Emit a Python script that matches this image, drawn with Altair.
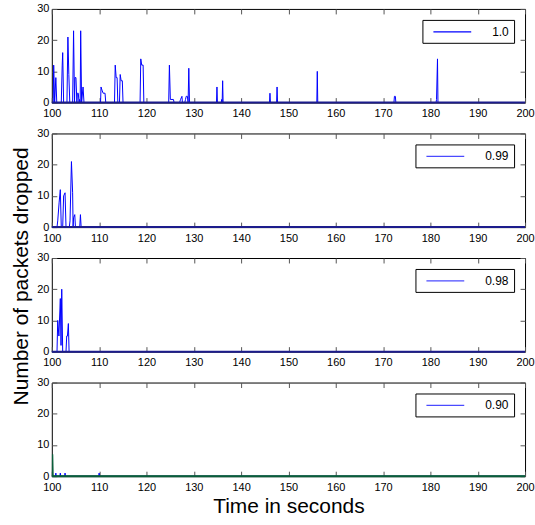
import altair as alt
import pandas as pd

FONT = "Liberation Sans"
x_ticks = list(range(100, 201, 10))
y_ticks = [0, 10, 20, 30]
labels = ["1.0", "0.99", "0.98", "0.90"]
series_color = "#0000ff"
green_color = "#0b5e3a"
baseline_color = "#1c1c8c"
W, H, TK = 475, 94, 5

# Panel 1 (1.0)
t1 = [100.0,
      100.3, 100.4, 100.6, 100.85, 101.05,
      102.0, 102.2, 102.3, 102.5,
      103.2, 103.4, 103.6, 103.8,
      104.4, 104.6, 104.8, 104.9, 105.1, 105.3, 105.4, 105.6, 105.75, 105.85, 106.0, 106.1, 106.3, 106.6, 106.8,
      110.3, 110.4, 110.6, 110.85, 111.25, 111.4,
      113.25, 113.4, 113.6, 113.8, 113.95, 114.3, 114.45, 114.65, 114.9, 115.05,
      118.65, 118.8, 119.0, 119.3, 119.45,
      124.7, 124.85, 125.05, 125.7, 125.85,
      127.0, 127.2, 127.5, 127.6, 128.1, 128.25, 128.4, 128.65, 128.8, 128.95, 129.1,
      134.8, 134.9, 135.0,
      135.8, 135.9, 136.0, 136.1, 136.2,
      146.0, 146.1, 146.2,
      147.5, 147.6, 147.7,
      156.0, 156.1, 156.2,
      172.3, 172.4, 172.6, 172.7,
      181.2, 181.3, 181.5, 181.6,
      200.0]
v1 = [0,
      0, 12, 0, 8, 0,
      0, 12, 16, 0,
      0, 21, 9, 0,
      0, 23, 0, 8, 8, 0, 3, 3, 0, 1, 0, 23, 0, 5, 0,
      0, 5, 4, 3, 3, 0,
      0, 12, 8, 8, 0, 0, 9, 7, 7, 0,
      0, 14, 12, 12, 0,
      0, 12, 1, 1, 0,
      0, 1, 2, 0, 0, 1, 2, 2, 0, 11, 0,
      0, 5, 0,
      0, 1, 0, 7, 0,
      0, 3, 0,
      0, 5, 0,
      0, 10, 0,
      0, 2, 2, 0,
      0, 1, 14, 0,
      0]

# Panel 2 (0.99)
t2 = [100.0,
      101.1, 101.25, 101.55, 101.8, 102.0,
      102.3, 102.5, 102.8, 103.0,
      103.7, 103.85, 104.15, 104.4, 104.5, 104.6, 104.85, 105.0,
      105.9, 106.05, 106.2,
      200.0]
v2 = [0,
      0, 2, 8, 12, 0,
      0, 10, 11, 0,
      0, 2, 21, 11, 0, 3, 4, 0,
      0, 4, 0,
      0]

# Panel 3 (0.98)
t3 = [100.0,
      101.1, 101.25, 101.5, 101.8, 101.95, 102.1, 102.3,
      103.0, 103.15, 103.3, 103.5, 103.65,
      200.0]
v3 = [0,
      0, 10, 5, 17, 2, 20, 0,
      0, 5, 5, 9, 0,
      0]

# Panel 4 (0.90)
t4 = [100.0, 100.75, 100.85, 100.95, 101.7, 101.8, 101.9, 102.7, 102.8, 102.9,
      109.9, 110.0, 110.1, 200.0]
v4 = [0, 0, 1, 0, 0, 1, 0, 0, 1, 0,
      0, 1, 0, 0]
g4_t = [100.0, 100.15, 100.25, 200.0]
g4_v = [0, 7, 0, 0]

assert len(t1) == len(v1) and len(t2) == len(v2) and len(t3) == len(v3) and len(t4) == len(v4)

xscale = alt.Scale(domain=[x_ticks[0], x_ticks[-1]], nice=False, zero=False, padding=0)
yscale = alt.Scale(domain=[y_ticks[0], y_ticks[-1]], nice=False, padding=0)

# inward ticks drawn as dashed grid lines (a tick at each end of every grid line)
XGRID = dict(grid=True, gridColor="#555", gridWidth=1, gridDash=[TK, H - 2 * TK, TK])
YGRID = dict(grid=True, gridColor="#555", gridWidth=1, gridDash=[TK, W - 2 * TK, TK])
COMMON = dict(ticks=False, domain=False, labelFlush=False, labelOverlap=False)


def panel(i, t, v, green=None, x_title=None, y_title=None):
    df = pd.DataFrame({"t": t, "v": v, "s": labels[i]})
    x_axis_kw = dict(orient="bottom", values=x_ticks, labelPadding=5, format="d",
                     **COMMON, **XGRID)
    if x_title:
        x_axis_kw.update(title=x_title, titleFontSize=21, titleFont=FONT,
                         titleFontWeight="normal", titlePadding=3, titleColor="black")
    else:
        x_axis_kw.update(title=None)
    y_axis_kw = dict(orient="left", values=y_ticks, labelPadding=3, **COMMON, **YGRID)
    if y_title:
        y_axis_kw.update(title=y_title, titleFontSize=21, titleFont=FONT,
                         titleFontWeight="normal", titleX=-20, titleY=18,
                         titleAngle=270, titleAlign="center", titleBaseline="bottom",
                         titleColor="black")
    else:
        y_axis_kw.update(title=None)
    x_axis = alt.Axis(**x_axis_kw)
    y_axis = alt.Axis(**y_axis_kw)

    legend = alt.Legend(
        title=None, orient="top-right", offset=11, fillColor="white",
        strokeColor="black", padding=5, symbolType="M-3,0H3", symbolSize=160,
        symbolStrokeWidth=1.3, symbolOffset=18, labelOffset=33,
        labelFont=FONT, labelFontSize=12, labelColor="black",
        symbolOpacity=1.0 if i == 0 else 0.7,
    )

    line = alt.Chart(df).mark_line(strokeWidth=1, clip=True).encode(
        x=alt.X("t:Q", scale=xscale, axis=x_axis),
        y=alt.Y("v:Q", scale=yscale, axis=y_axis),
        color=alt.Color("s:N", scale=alt.Scale(domain=[labels[i]], range=[series_color]),
                        legend=legend),
    )

    base_df = pd.DataFrame({"t0": [x_ticks[0]], "t1": [x_ticks[-1]], "y": [y_ticks[0]]})
    base = alt.Chart(base_df).mark_rule(
        color=(green_color if green is not None else baseline_color), strokeWidth=2
    ).encode(
        x=alt.X("t0:Q", scale=xscale, axis=x_axis),
        x2="t1:Q",
        y=alt.Y("y:Q", scale=yscale, axis=y_axis),
    )
    layers = [line, base]
    if green is not None:
        gdf = pd.DataFrame({"t": green[0], "v": green[1]})
        layers.append(
            alt.Chart(gdf).mark_line(color=green_color, strokeWidth=1.5, clip=True).encode(
                x=alt.X("t:Q", scale=xscale, axis=x_axis),
                y=alt.Y("v:Q", scale=yscale, axis=y_axis),
            )
        )
    return alt.layer(*layers).properties(width=W, height=H)


p1 = panel(0, t1, v1)
p2 = panel(1, t2, v2)
p3 = panel(2, t3, v3, y_title="Number of packets dropped")
p4 = panel(3, t4, v4, green=(g4_t, g4_v), x_title="Time in seconds")

chart = alt.vconcat(p1, p2, p3, p4, spacing=31, bounds="flush").resolve_scale(
    color="independent"
).resolve_legend(color="independent").properties(
    padding={"left": 10, "top": 1, "right": 0, "bottom": 0},
    background="white",
).configure_view(stroke="black", strokeWidth=1).configure_axis(
    labelFont=FONT, labelFontSize=11, labelColor="black",
)

chart.save("out.html", embed_options={"renderer": "svg", "actions": False})
